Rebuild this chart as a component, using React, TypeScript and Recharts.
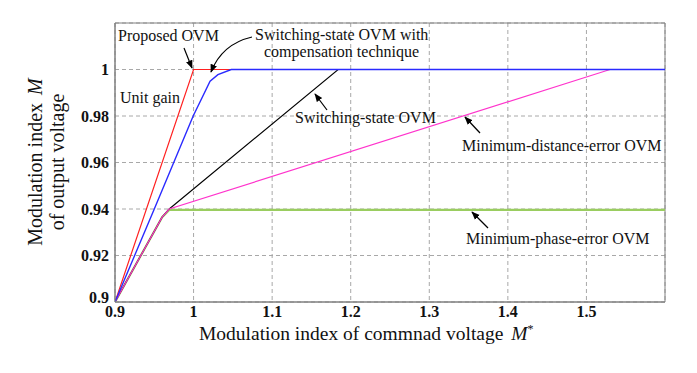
import React from "react";
import {
  CartesianGrid,
  Line,
  LineChart,
  ReferenceArea,
  XAxis,
  YAxis,
} from "recharts";

// x = commanded modulation index M*, y = output modulation index M
const proposed = [
  { x: 0.9, y: 0.9 },
  { x: 1.0, y: 1.0 },
  { x: 1.6, y: 1.0 },
];
const compensated = [
  { x: 0.9, y: 0.9 },
  { x: 0.925, y: 0.92 },
  { x: 0.95, y: 0.94 },
  { x: 0.9995, y: 0.98 },
  { x: 1.021, y: 0.995 },
  { x: 1.031, y: 0.9978 },
  { x: 1.048, y: 1.0 },
  { x: 1.6, y: 1.0 },
];
const switchingState = [
  { x: 0.9, y: 0.9 },
  { x: 0.96, y: 0.9365 },
  { x: 0.969, y: 0.94 },
  { x: 1.184, y: 1.0 },
  { x: 1.6, y: 1.0 },
];
const minDistance = [
  { x: 0.9, y: 0.9 },
  { x: 0.96, y: 0.9365 },
  { x: 0.969, y: 0.94 },
  { x: 1.53, y: 1.0 },
  { x: 1.6, y: 1.0 },
];
const minPhase = [
  { x: 0.9, y: 0.9 },
  { x: 0.96, y: 0.9365 },
  { x: 0.969, y: 0.9396 },
  { x: 1.6, y: 0.9396 },
];

const xTicks = [0.9, 1.0, 1.1, 1.2, 1.3, 1.4, 1.5];
const yTicks = [0.9, 0.92, 0.94, 0.96, 0.98, 1.0];

const serif = "Liberation Serif, DejaVu Serif, serif";
const fmt = (v: number) => String(Number(v.toFixed(2)));

// y tick: the bottom label sits a little higher so it clears the x "0.9"
function YTick(props: any) {
  const { x, y, payload } = props;
  const lift = payload.value === 0.9 ? -5 : 0;
  return (
    <text
      x={x - 4}
      y={y + lift}
      dy="0.35em"
      textAnchor="end"
      fontSize={16}
      fontWeight={700}
      fill="#111"
      style={{ fontFamily: serif }}
    >
      {fmt(payload.value)}
    </text>
  );
}

export default function App() {
  const tick = { fill: "#111", fontSize: 16, fontWeight: 700, style: { fontFamily: serif } };
  const note = { fontSize: 16, fill: "#111", style: { fontFamily: serif } };
  return (
    <div
      style={{
        position: "absolute",
        left: 0,
        top: 0,
        width: 697,
        height: 373,
        background: "#fff",
        fontFamily: serif,
      }}
    >
      <LineChart
        width={697}
        height={373}
        margin={{ top: 23, right: 32, bottom: 41, left: 0 }}
        style={{ fontFamily: serif }}
      >
        <CartesianGrid stroke="#a8a8a8" strokeDasharray="4 3" />
        <XAxis
          dataKey="x"
          type="number"
          domain={[0.9, 1.6]}
          ticks={xTicks}
          tickFormatter={fmt}
          allowDataOverflow
          height={30}
          tick={tick}
          tickLine={false}
          tickSize={0}
          tickMargin={4}
          stroke="#808080"
        />
        <YAxis
          type="number"
          domain={[0.9, 1.02]}
          ticks={yTicks}
          allowDataOverflow
          width={115}
          tick={<YTick />}
          tickLine={false}
          tickSize={0}
          stroke="#808080"
        />
        <ReferenceArea x1={0.9} x2={1.6} y1={0.9} y2={1.02} fill="none" stroke="#808080" strokeWidth={1} />
        <Line data={minPhase} dataKey="y" type="linear" stroke="#9acd60" strokeWidth={2.2} dot={false} isAnimationActive={false} />
        <Line data={switchingState} dataKey="y" type="linear" stroke="#000000" strokeWidth={1.1} dot={false} isAnimationActive={false} />
        <Line data={minDistance} dataKey="y" type="linear" stroke="#ff33cc" strokeWidth={1.2} dot={false} isAnimationActive={false} />
        <Line data={proposed} dataKey="y" type="linear" stroke="#ff2020" strokeWidth={1.2} dot={false} isAnimationActive={false} />
        <Line data={compensated} dataKey="y" type="linear" stroke="#2a2aff" strokeWidth={1.4} dot={false} isAnimationActive={false} />
      </LineChart>
      <svg
        width={697}
        height={373}
        style={{ position: "absolute", left: 0, top: 0, pointerEvents: "none", fontFamily: serif }}
      >
        <defs>
          <marker id="ah" viewBox="0 0 10 10" refX="9" refY="5" markerWidth="7" markerHeight="7" orient="auto">
            <path d="M0,1 L10,5 L0,9 Z" fill="#000" />
          </marker>
        </defs>
        <text x={118} y={41} {...note}>Proposed OVM</text>
        <line x1={184} y1={48} x2={192} y2={68} stroke="#000" strokeWidth={1.2} markerEnd="url(#ah)" />
        <text x={255} y={40} {...note}>Switching-state OVM with</text>
        <text x={264} y={57} {...note}>compensation technique</text>
        <path d="M252,37 Q222,44 211,72" fill="none" stroke="#000" strokeWidth={1.2} markerEnd="url(#ah)" />
        <text x={120} y={103} {...note}>Unit gain</text>
        <text x={295} y={123} {...note}>Switching-state OVM</text>
        <line x1={327} y1={110} x2={315} y2={94} stroke="#000" strokeWidth={1.2} markerEnd="url(#ah)" />
        <text x={462} y={151} {...note}>Minimum-distance-error OVM</text>
        <line x1={480} y1={133} x2={465} y2={117} stroke="#000" strokeWidth={1.2} markerEnd="url(#ah)" />
        <text x={466} y={244} {...note}>Minimum-phase-error OVM</text>
        <line x1={488} y1={228} x2={472} y2={212} stroke="#000" strokeWidth={1.2} markerEnd="url(#ah)" />
        <text x={199} y={340} fontSize={19.5} fill="#111">
          Modulation index of commnad voltage
          <tspan dx={8} fontStyle="italic">M</tspan>
          <tspan dy={-7} fontSize={12}>*</tspan>
        </text>
        <g transform="translate(42,162) rotate(-90)">
          <text x={0} y={0} textAnchor="middle" fontSize={20} fill="#111">
            Modulation index<tspan dx={8} fontStyle="italic">M</tspan>
          </text>
          <text x={0} y={22} textAnchor="middle" fontSize={20} fill="#111">
            of output voltage
          </text>
        </g>
      </svg>
    </div>
  );
}
